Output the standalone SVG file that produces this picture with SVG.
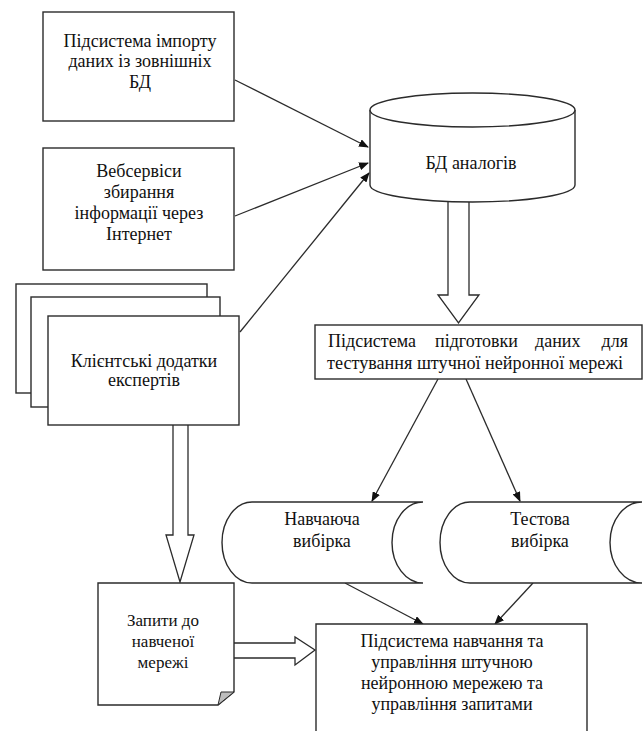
<svg xmlns="http://www.w3.org/2000/svg" width="643" height="731" viewBox="0 0 643 731">
  <style>
    .shape { fill: #ffffff; stroke: #2b2b2b; stroke-width: 1.4; }
    .line { fill: none; stroke: #2b2b2b; stroke-width: 1.3; }
    .hollow { fill: #ffffff; stroke: #2b2b2b; stroke-width: 1.3; stroke-linejoin: miter; }
    .t { font-family: "Liberation Serif", "Times New Roman", serif; font-size: 18px; fill: #111111; text-anchor: middle; }
    .q { font-family: "Liberation Serif", "Times New Roman", serif; font-size: 17px; fill: #111111; text-anchor: middle; }
  </style>
  <defs>
    <marker id="arrow" markerWidth="10" markerHeight="8" refX="9" refY="4" orient="auto" markerUnits="userSpaceOnUse">
      <path d="M0,0 L10,4 L0,8 Z" fill="#111111"/>
    </marker>
  </defs>
  <rect width="643" height="731" fill="#ffffff"/>

  <!-- connectors -->
  <g id="connectors">
    <line class="line" x1="235" y1="80" x2="368" y2="147" marker-end="url(#arrow)"/>
    <line class="line" x1="235" y1="216" x2="368" y2="163" marker-end="url(#arrow)"/>
    <line class="line" x1="240" y1="332" x2="369" y2="173" marker-end="url(#arrow)"/>
    <line class="line" x1="438" y1="379" x2="372" y2="501" marker-end="url(#arrow)"/>
    <line class="line" x1="466" y1="379" x2="520" y2="501" marker-end="url(#arrow)"/>
    <line class="line" x1="345" y1="583" x2="423" y2="624" marker-end="url(#arrow)"/>
    <line class="line" x1="533" y1="583" x2="495" y2="624" marker-end="url(#arrow)"/>
    <!-- block arrows -->
    <path class="hollow" d="M448,202 L448,295 L438,295 L458.5,323 L479,295 L469,295 L469,202"/>
    <path class="hollow" d="M173,425 L173,535 L166,535 L180,582 L194,535 L188,535 L188,425"/>
    <path class="hollow" d="M234,643 L295,643 L295,637 L315,650 L295,665 L295,658 L234,658"/>
  </g>

  <g id="import-subsystem">
    <rect class="shape" x="43" y="12" width="191" height="109"/>
    <text class="t" x="140" y="47">Підсистема імпорту</text>
    <text class="t" x="140" y="67">даних із зовнішніх</text>
    <text class="t" x="140" y="88">БД</text>
  </g>

  <g id="web-services">
    <rect class="shape" x="43" y="148" width="191" height="122"/>
    <text class="t" x="139" y="177">Вебсервіси</text>
    <text class="t" x="139" y="198">збирання</text>
    <text class="t" x="139" y="219">інформації через</text>
    <text class="t" x="139" y="240">Інтернет</text>
  </g>

  <g id="expert-clients">
    <rect class="shape" x="16" y="284" width="191" height="109"/>
    <rect class="shape" x="31" y="297" width="189" height="110"/>
    <rect class="shape" x="48" y="316" width="191" height="109"/>
    <text class="t" x="144" y="367">Клієнтські додатки</text>
    <text class="t" x="144" y="386">експертів</text>
  </g>

  <g id="analog-db">
    <path class="shape" d="M370,110 L370,185 A102.5,17 0 0 0 575,185 L575,110"/>
    <ellipse class="shape" cx="472.5" cy="110" rx="102.5" ry="17"/>
    <text class="t" x="471" y="169">БД аналогів</text>
  </g>

  <g id="data-prep-subsystem">
    <rect class="shape" x="315" y="325" width="327" height="54"/>
    <text class="t" x="328" y="347" style="text-anchor:start">Підсистема</text>
    <text class="t" x="435" y="347" style="text-anchor:start">підготовки</text>
    <text class="t" x="535" y="347" style="text-anchor:start">даних</text>
    <text class="t" x="628" y="347" style="text-anchor:end">для</text>
    <text class="t" x="327" y="369" style="text-anchor:start" textLength="296" lengthAdjust="spacingAndGlyphs">тестування штучної нейронної мережі</text>
  </g>

  <g id="training-set">
    <path class="shape" d="M423,502 L252,502 A30,40.5 0 0 0 252,583 L423,583 A31,40.5 0 0 1 423,502 Z"/>
    <text class="t" x="322" y="525">Навчаюча</text>
    <text class="t" x="322" y="547">вибірка</text>
  </g>

  <g id="test-set">
    <path class="shape" d="M642,502 L470,502 A30,40.5 0 0 0 470,583 L642,583 A32,40.5 0 0 1 642,502 Z"/>
    <text class="t" x="540" y="525">Тестова</text>
    <text class="t" x="540" y="547">вибірка</text>
  </g>

  <g id="queries">
    <path class="shape" d="M98,583 L234,583 L234,692 L218,705 L98,705 Z"/>
    <path d="M234,692 L221,692 L218,705 Z" fill="#bdbdbd" stroke="#2b2b2b" stroke-width="1"/>
    <text class="q" x="163" y="626">Запити до</text>
    <text class="q" x="163" y="647">навченої</text>
    <text class="q" x="163" y="668">мережі</text>
  </g>

  <g id="training-subsystem">
    <path class="shape" d="M316,740 L316,624 L587,624 L587,740"/>
    <text class="t" x="452" y="647">Підсистема навчання та</text>
    <text class="t" x="452" y="668">управління штучною</text>
    <text class="t" x="452" y="689">нейронною мережею та</text>
    <text class="t" x="452" y="710">управління запитами</text>
  </g>
</svg>
